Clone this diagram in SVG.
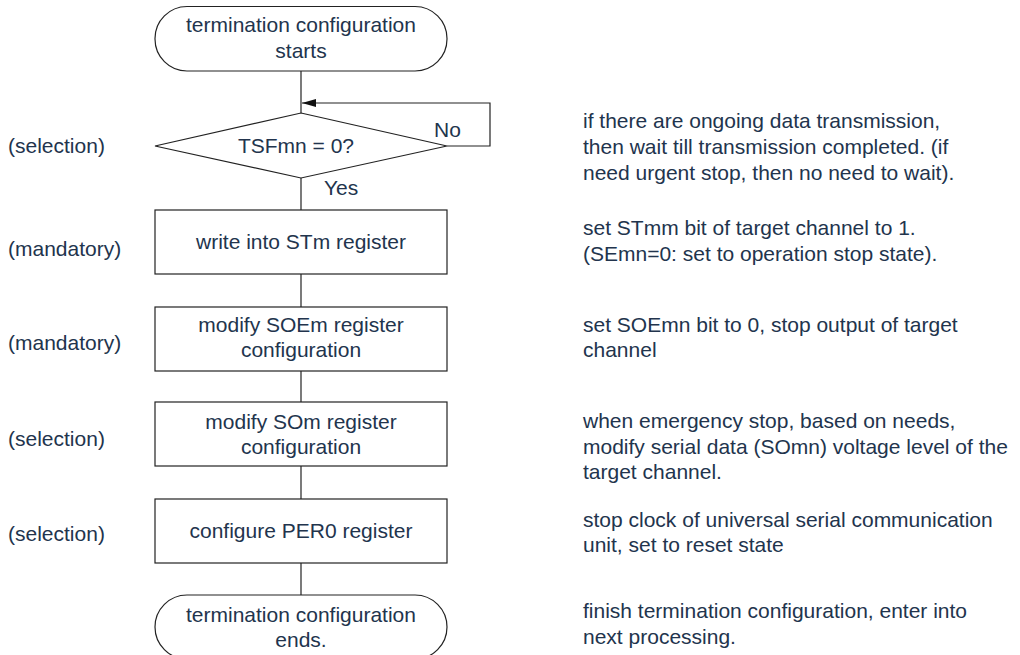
<svg xmlns="http://www.w3.org/2000/svg" width="1020" height="655" viewBox="0 0 1020 655">
<style>
text{font-family:"Liberation Sans",Arial,sans-serif;font-size:21px;fill:#22344d}
.c{text-anchor:middle}
.shape{fill:#fff;stroke:#222;stroke-width:1.2}
.ln{fill:none;stroke:#222;stroke-width:1.2}
</style>
<defs>
<marker id="ah" markerWidth="14" markerHeight="8" refX="14" refY="4" orient="auto" markerUnits="userSpaceOnUse">
<path d="M0,0 L14,4 L0,8 Z" fill="#111"/>
</marker>
</defs>
<rect width="1020" height="655" fill="#fff"/>
<g id="connectors">
<line class="ln" x1="301" y1="71" x2="301" y2="113"/>
<polyline class="ln" points="447,146 490,146 490,103 302,103" marker-end="url(#ah)"/>
<line class="ln" x1="301" y1="178" x2="301" y2="210"/>
<line class="ln" x1="301" y1="274" x2="301" y2="307"/>
<line class="ln" x1="301" y1="371" x2="301" y2="402"/>
<line class="ln" x1="301" y1="466" x2="301" y2="499"/>
<line class="ln" x1="301" y1="563" x2="301" y2="595"/>
<text x="434" y="137">No</text>
<text x="324" y="195">Yes</text>
</g>
<g id="start">
<rect class="shape" x="155" y="6.5" width="292" height="64.5" rx="32" ry="32"/>
<text class="c" x="301" y="32">termination configuration</text>
<text class="c" x="301" y="58">starts</text>
</g>
<g id="decision">
<polygon class="shape" points="301,113 447,146 301,178 155,146"/>
<text class="c" x="296" y="153">TSFmn = 0?</text>
</g>
<g id="step1">
<rect class="shape" x="155" y="210" width="292" height="64"/>
<text class="c" x="301" y="249">write into STm register</text>
</g>
<g id="step2">
<rect class="shape" x="155" y="307" width="292" height="64"/>
<text class="c" x="301" y="332">modify SOEm register</text>
<text class="c" x="301" y="357">configuration</text>
</g>
<g id="step3">
<rect class="shape" x="155" y="402" width="292" height="64"/>
<text class="c" x="301" y="429">modify SOm register</text>
<text class="c" x="301" y="454">configuration</text>
</g>
<g id="step4">
<rect class="shape" x="155" y="499" width="292" height="64"/>
<text class="c" x="301" y="538">configure PER0 register</text>
</g>
<g id="end">
<rect class="shape" x="155" y="595" width="292" height="64" rx="32" ry="32"/>
<text class="c" x="301" y="622">termination configuration</text>
<text class="c" x="301" y="647">ends.</text>
</g>
<g id="labels">
<text x="8" y="153">(selection)</text>
<text x="8" y="256">(mandatory)</text>
<text x="8" y="350">(mandatory)</text>
<text x="8" y="446">(selection)</text>
<text x="8" y="541">(selection)</text>
</g>
<g id="notes">
<text x="583" y="128">if there are ongoing data transmission,</text>
<text x="583" y="154">then wait till transmission completed. (if</text>
<text x="583" y="180">need urgent stop, then no need to wait).</text>
<text x="583" y="235">set STmm bit of target channel to 1.</text>
<text x="583" y="261">(SEmn=0: set to operation stop state).</text>
<text x="583" y="332">set SOEmn bit to 0, stop output of target</text>
<text x="583" y="357">channel</text>
<text x="583" y="428">when emergency stop, based on needs,</text>
<text x="583" y="454">modify serial data (SOmn) voltage level of the</text>
<text x="583" y="479">target channel.</text>
<text x="583" y="527">stop clock of universal serial communication</text>
<text x="583" y="552">unit, set to reset state</text>
<text x="583" y="618">finish termination configuration, enter into</text>
<text x="583" y="644">next processing.</text>
</g>
</svg>
